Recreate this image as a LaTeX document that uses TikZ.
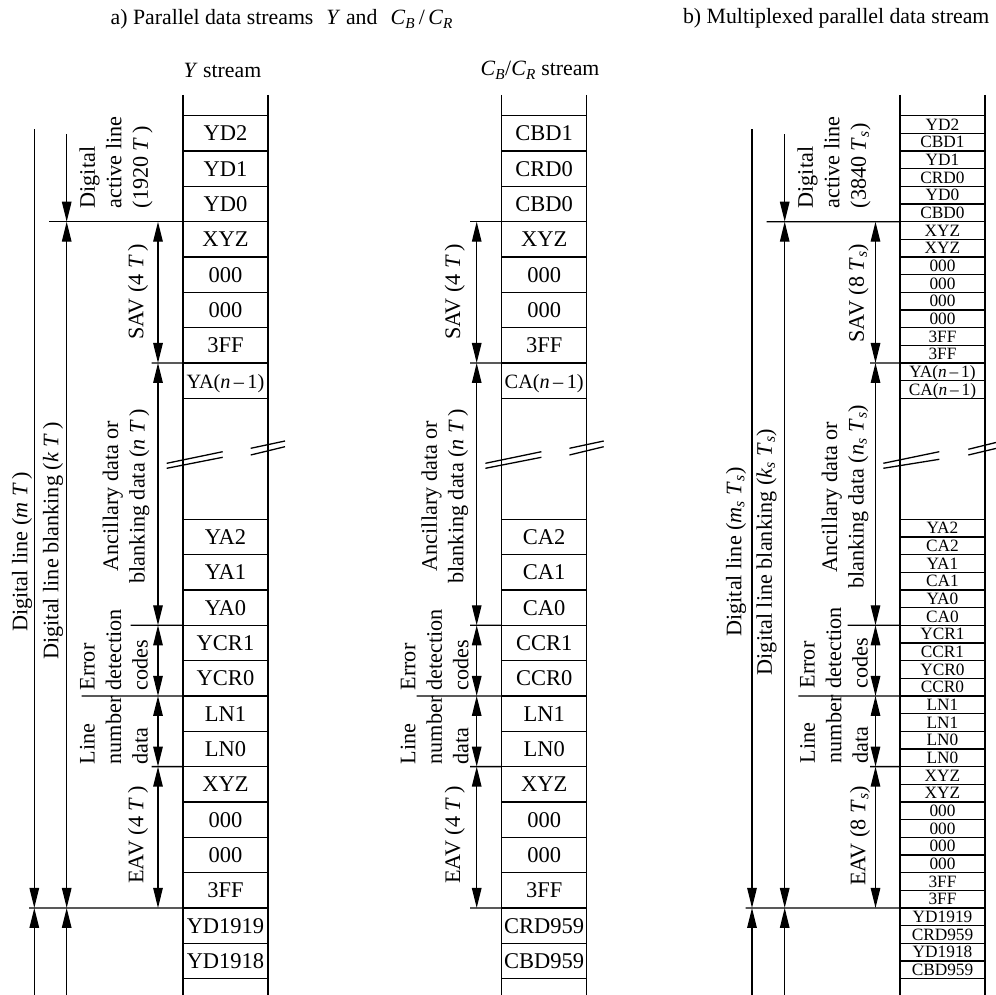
\documentclass[tikz,border=0pt]{standalone}
\usepackage{fontspec}
\setmainfont{Liberation Serif}
\usetikzlibrary{arrows.meta}
\newcommand{\mysub}[1]{\textsubscript{\textit{#1}}}
\newcommand{\vt}[1]{\textit{#1}}
\def\rA{221.69}
\def\rS{362.99}
\def\rE{625.29}
\def\rL{695.95}
\def\rV{766.61}
\def\rF{907.93}
\begin{document}
\begin{tikzpicture}[x=1pt,y=-1pt,line width=1.3pt,>={Triangle[length=20pt,width=9.5pt]},
  lbl/.style={font=\fontsize{22.2}{26.5}\selectfont,inner sep=0pt},
  ttl/.style={font=\fontsize{21.8}{26}\selectfont,inner sep=0pt},
  cella/.style={draw,anchor=north west,minimum width=85pt,minimum height=35.33pt,inner sep=0pt,outer sep=0pt,font=\fontsize{22.5}{24}\selectfont,text height=15pt,text depth=0pt},
  cellb/.style={cella,minimum height=17.665pt,font=\fontsize{17.3}{18}\selectfont,text height=11.5pt}]
\useasboundingbox (0,0) rectangle (995,995);

% titles
\node[ttl,anchor=base west] (ta) at (110,25) {a) Parallel data streams\hspace{0.6em}\vt{Y} and\hspace{0.6em}\vt{C}\mysub{B}\,/\,\vt{C}\mysub{R}};
\node[ttl,anchor=base east] (tb) at (990,24) {b) Multiplexed parallel data stream};
\node[ttl,anchor=base west] (hy) at (183,78) {\vt{Y} stream};
\node[ttl,anchor=base west] (hc) at (480,76) {\vt{C}\mysub{B}/\vt{C}\mysub{R} stream};

% ---------------- Y stream ----------------
\begin{scope}[shift={(183,0)},name prefix=y-]
\draw (0,95) -- (0,995) (85,95) -- (85,995);
\foreach \t [count=\i from 0] in {YD2,YD1,YD0,XYZ,000,000,3FF,{\fontsize{20.3}{22}\selectfont YA(\vt{n}\,–\,1)}}
  \node[cella] (t\i) at (0,{115.7+\i*35.33}) {\t};
\foreach \t [count=\i from 0] in {YA2,YA1,YA0,YCR1,YCR0,LN1,LN0,XYZ,000,000,3FF,YD1919,YD1918}
  \node[cella] (u\i) at (0,{519.3+\i*35.33}) {\t};
\draw (-16.3,463.3) -- (39.7,451.7);
\draw (-16.3,468.3) -- (39.7,457.3);
\draw (67.7,448.3) -- (102,441);
\draw (67.7,455) -- (102,446.7);
\coordinate (oT) at (-148.7,129.3);
\coordinate (oF) at (-148.7,\rF);
\coordinate (oB) at (-148.7,995);
\coordinate (iT) at (-116.3,134);
\coordinate (iA) at (-116.3,\rA);
\coordinate (iF) at (-116.3,\rF);
\coordinate (iB) at (-116.3,995);
\coordinate (gA) at (-25,\rA);
\coordinate (gS) at (-25,\rS);
\coordinate (gE) at (-25,\rE);
\coordinate (gL) at (-25,\rL);
\coordinate (gV) at (-25,\rV);
\coordinate (gF) at (-25,\rF);
\coordinate (hA) at (-133.7,\rA);
\coordinate (hF) at (-154,\rF);
\coordinate (hS) at (-31.5,\rS);
\coordinate (hE) at (-52.3,\rE);
\coordinate (hL) at (-101.5,\rL);
\coordinate (hV) at (-31.5,\rV);
\draw (hA) -- (t3.north west);
\draw (hS) -- (t7.north west);
\draw (hE) -- (u3.north west);
\draw (hL) -- (u5.north west);
\draw (hV) -- (u7.north west);
\draw (hF) -- (u11.north west);
\draw[->] (oT) -- (oF);
\draw[->] (oB) -- (oF);
\draw[->] (iT) -- (iA);
\draw[<->] (iA) -- (iF);
\draw[->] (iB) -- (iF);
\draw[<->] (gA) -- (gS);
\draw[<->] (gS) -- (gE);
\draw[<->] (gE) -- (gL);
\draw[<->] (gL) -- (gV);
\draw[<->] (gV) -- (gF);
\node[lbl,rotate=90,anchor=west,align=left] (lact) at (-67,209) {Digital\\active line\\(1920 \vt{T}\,)};
\node[lbl,rotate=90] (lsav) at (-45,292) {SAV (4 \vt{T}\,)};
\node[lbl,rotate=90,align=center] (lanc) at (-57,496) {Ancillary data or\\blanking data (\vt{n} \vt{T}\,)};
\node[lbl,rotate=90,anchor=west,align=left] (lerr) at (-69,691) {Error\\detection\\codes};
\node[lbl,rotate=90,anchor=west,align=left] (llin) at (-69,765) {Line\\number\\data};
\node[lbl,rotate=90] (leav) at (-45,835) {EAV (4 \vt{T}\,)};
\node[lbl,rotate=90] (ldl) at (-161,552) {Digital line (\vt{m} \vt{T}\,)};
\node[lbl,rotate=90] (ldb) at (-130,541) {Digital line blanking (\vt{k} \vt{T}\,)};
\end{scope}

% ---------------- CB/CR stream ----------------
\begin{scope}[shift={(501.7,0)},name prefix=c-]
\draw (0,95) -- (0,995) (85,95) -- (85,995);
\foreach \t [count=\i from 0] in {CBD1,CRD0,CBD0,XYZ,000,000,3FF,{\fontsize{20.3}{22}\selectfont CA(\vt{n}\,–\,1)}}
  \node[cella] (t\i) at (0,{115.7+\i*35.33}) {\t};
\foreach \t [count=\i from 0] in {CA2,CA1,CA0,CCR1,CCR0,LN1,LN0,XYZ,000,000,3FF,CRD959,CBD959}
  \node[cella] (u\i) at (0,{519.3+\i*35.33}) {\t};
\draw (-16.3,463.3) -- (39.7,451.7);
\draw (-16.3,468.3) -- (39.7,457.3);
\draw (67.7,448.3) -- (102,441);
\draw (67.7,455) -- (102,446.7);
\coordinate (gA) at (-25,\rA);
\coordinate (gS) at (-25,\rS);
\coordinate (gE) at (-25,\rE);
\coordinate (gL) at (-25,\rL);
\coordinate (gV) at (-25,\rV);
\coordinate (gF) at (-25,\rF);
\coordinate (hA) at (-31.7,\rA);
\coordinate (hS) at (-31.7,\rS);
\coordinate (hE) at (-31.7,\rE);
\coordinate (hL) at (-85,\rL);
\coordinate (hV) at (-31.7,\rV);
\coordinate (hF) at (-31.7,\rF);
\draw (hA) -- (t3.north west);
\draw (hS) -- (t7.north west);
\draw (hE) -- (u3.north west);
\draw (hL) -- (u5.north west);
\draw (hV) -- (u7.north west);
\draw (hF) -- (u11.north west);
\draw[<->] (gA) -- (gS);
\draw[<->] (gS) -- (gE);
\draw[<->] (gE) -- (gL);
\draw[<->] (gL) -- (gV);
\draw[<->] (gV) -- (gF);
\node[lbl,rotate=90] (lsav) at (-47,292) {SAV (4 \vt{T}\,)};
\node[lbl,rotate=90,align=center] (lanc) at (-57,496) {Ancillary data or\\blanking data (\vt{n} \vt{T}\,)};
\node[lbl,rotate=90,anchor=west,align=left] (lerr) at (-67,691) {Error\\detection\\codes};
\node[lbl,rotate=90,anchor=west,align=left] (llin) at (-67,765) {Line\\number\\data};
\node[lbl,rotate=90] (leav) at (-47,835) {EAV (4 \vt{T}\,)};
\end{scope}

% ---------------- multiplexed stream ----------------
\begin{scope}[shift={(900,0)},name prefix=b-]
\draw (0,95) -- (0,995) (85,95) -- (85,995);
\foreach \t [count=\i from 0] in {YD2,CBD1,YD1,CRD0,YD0,CBD0,XYZ,XYZ,000,000,000,000,3FF,3FF,{YA(\vt{n}\,–\,1)},{CA(\vt{n}\,–\,1)}}
  \node[cellb] (t\i) at (0,{115.7+\i*17.665}) {\t};
\foreach \t [count=\i from 0] in {YA2,CA2,YA1,CA1,YA0,CA0,YCR1,CCR1,YCR0,CCR0,LN1,LN1,LN0,LN0,XYZ,XYZ,000,000,000,000,3FF,3FF,YD1919,CRD959,YD1918,CBD959}
  \node[cellb] (u\i) at (0,{519.3+\i*17.665}) {\t};
\draw (-16.7,463.3) -- (39.3,451.7);
\draw (-16.7,468.3) -- (39.3,459.3);
\draw (68.3,449.3) -- (102,441);
\draw (68.3,455) -- (102,447);
\coordinate (oT) at (-148,129.3);
\coordinate (oF) at (-148,\rF);
\coordinate (oB) at (-148,995);
\coordinate (iT) at (-115.3,134.3);
\coordinate (iA) at (-115.3,\rA);
\coordinate (iF) at (-115.3,\rF);
\coordinate (iB) at (-115.3,995);
\coordinate (gA) at (-24.5,\rA);
\coordinate (gS) at (-24.5,\rS);
\coordinate (gE) at (-24.5,\rE);
\coordinate (gL) at (-24.5,\rL);
\coordinate (gV) at (-24.5,\rV);
\coordinate (gF) at (-24.5,\rF);
\coordinate (hA) at (-133.3,\rA);
\coordinate (hF) at (-154.3,\rF);
\coordinate (hS) at (-30,\rS);
\coordinate (hE) at (-52.3,\rE);
\coordinate (hL) at (-101.7,\rL);
\coordinate (hV) at (-30,\rV);
\draw (hA) -- (t6.north west);
\draw (hS) -- (t14.north west);
\draw (hE) -- (u6.north west);
\draw (hL) -- (u10.north west);
\draw (hV) -- (u14.north west);
\draw (hF) -- (u22.north west);
\draw[->] (oT) -- (oF);
\draw[->] (oB) -- (oF);
\draw[->] (iT) -- (iA);
\draw[<->] (iA) -- (iF);
\draw[->] (iB) -- (iF);
\draw[<->] (gA) -- (gS);
\draw[<->] (gS) -- (gE);
\draw[<->] (gE) -- (gL);
\draw[<->] (gL) -- (gV);
\draw[<->] (gV) -- (gF);
\node[lbl,rotate=90,anchor=west,align=left] (lact) at (-66,209) {Digital\\active line\\(3840 \vt{T}\mysub{s})};
\node[lbl,rotate=90] (lsav) at (-41.5,293) {SAV (8 \vt{T}\mysub{s})};
\node[lbl,rotate=90,align=center] (lanc) at (-55,497) {Ancillary data or\\blanking data (\vt{n}\mysub{s} \vt{T}\mysub{s})};
\node[lbl,rotate=90,anchor=west,align=left] (lerr) at (-66,689) {Error\\detection\\codes};
\node[lbl,rotate=90,anchor=west,align=left] (llin) at (-66,764) {Line\\number\\data};
\node[lbl,rotate=90] (leav) at (-40,836) {EAV (8 \vt{T}\mysub{s})};
\node[lbl,rotate=90] (ldl) at (-164,552) {Digital line (\vt{m}\mysub{s} \vt{T}\mysub{s})};
\node[lbl,rotate=90] (ldb) at (-133.5,552) {Digital line blanking (\vt{k}\mysub{s} \vt{T}\mysub{s})};
\end{scope}
\end{tikzpicture}
\end{document}
